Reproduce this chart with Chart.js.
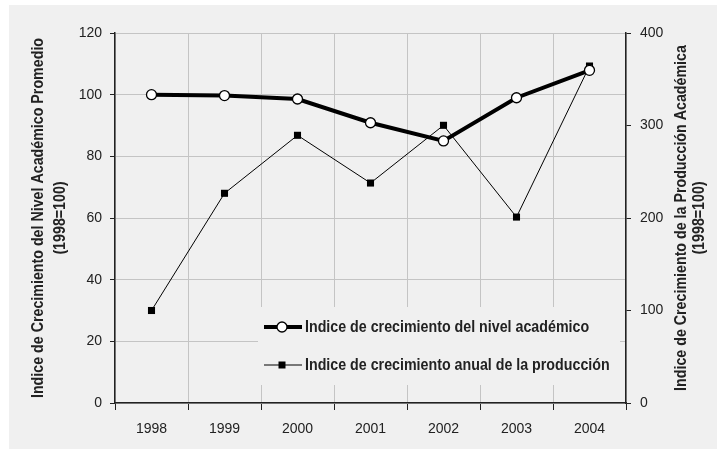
<!DOCTYPE html>
<html>
<head>
<meta charset="utf-8">
<script src="https://cdn.jsdelivr.net/npm/chart.js@4/dist/chart.umd.min.js"></script>
<style>
  html, body { margin: 0; padding: 0; background: #ffffff; }
  #wrap { position: absolute; left: 9px; top: 5px; width: 708px; height: 444px; background: #f0f0f0; }
</style>
</head>
<body>
<div id="wrap"><canvas id="chart"></canvas></div>
<script>
const years = ['1998', '1999', '2000', '2001', '2002', '2003', '2004'];
const nivelAcademico = [100, 99.7, 98.6, 90.9, 85.0, 99.0, 107.9];
const produccion = [100, 226.7, 289.4, 237.8, 300.2, 201, 364.3];
const seriesLabels = ['Indice de crecimiento del nivel académico', 'Indice de crecimiento anual de la producción'];
const leftTitle = ['Indice de Crecimiento del Nivel Académico Promedio', '(1998=100)'];
const rightTitle = ['Indice de Crecimiento de la Producción Académica', '(1998=100)'];

const FONT = "'Liberation Sans', Arial, sans-serif";
const dark = '#222222';
const gridGray = '#c4c4c4';
const squeeze = 0.89; // the original type is a narrow face

// rotated axis titles + legend box inside the plot
const extras = {
    id: 'extras',
    afterDraw(chart) {
        const c = chart.ctx;
        const area = chart.chartArea;
        const midY = (area.top + area.bottom) / 2;
        c.save();
        c.fillStyle = dark;
        c.font = 'bold 16px ' + FONT;
        c.textAlign = 'center';
        c.textBaseline = 'middle';
        const drawTitle = (lines, xs) => {
            lines.forEach((t, i) => {
                c.save();
                c.translate(xs[i], midY);
                c.rotate(-Math.PI / 2);
                c.scale(squeeze, 1);
                c.fillText(t, 0, 0);
                c.restore();
            });
        };
        drawTitle(leftTitle, [30, 52]);
        drawTitle(rightTitle, [673, 691]);

        // legend
        c.fillStyle = '#f0f0f0';
        c.fillRect(249, 302, 362, 78);
        const rows = [322, 360];
        chart.data.datasets.forEach((ds, i) => {
            const y = rows[i];
            c.strokeStyle = '#000000';
            c.lineWidth = ds.borderWidth;
            c.beginPath();
            c.moveTo(255, y);
            c.lineTo(293, y);
            c.stroke();
            c.lineWidth = 1.3;
            c.fillStyle = ds.pointBackgroundColor;
            if (ds.pointStyle === 'circle') {
                c.beginPath();
                c.arc(273, y, 5, 0, Math.PI * 2);
                c.fill();
                c.stroke();
            } else {
                c.fillRect(269.5, y - 3.5, 7, 7);
            }
            c.save();
            c.translate(296, y + 1);
            c.scale(squeeze, 1);
            c.fillStyle = dark;
            c.textAlign = 'left';
            c.font = 'bold 16px ' + FONT;
            c.fillText(ds.label, 0, 0);
            c.restore();
        });
        c.restore();
    }
};

new Chart(document.getElementById('chart'), {
    type: 'line',
    data: {
        labels: years,
        datasets: [
            {
                label: seriesLabels[0],
                data: nivelAcademico,
                yAxisID: 'y',
                borderColor: '#000000',
                borderWidth: 4,
                pointStyle: 'circle',
                pointRadius: 5,
                pointBackgroundColor: '#ffffff',
                pointBorderColor: '#000000',
                pointBorderWidth: 1.3,
                tension: 0
            },
            {
                label: seriesLabels[1],
                data: produccion,
                yAxisID: 'y2',
                borderColor: '#000000',
                borderWidth: 1,
                pointStyle: 'rect',
                pointRadius: 5,
                pointBackgroundColor: '#000000',
                pointBorderColor: '#000000',
                pointBorderWidth: 0,
                tension: 0
            }
        ]
    },
    options: {
        responsive: true,
        maintainAspectRatio: false,
        animation: false,
        layout: { padding: { left: 0, top: 28, right: 0, bottom: 0 } },
        plugins: {
            legend: { display: false },
            tooltip: { enabled: false }
        },
        scales: {
            x: {
                offset: true,
                grid: { offset: true, color: gridGray, tickColor: dark, tickLength: 7, lineWidth: 1 },
                border: { color: dark, width: 1.5 },
                ticks: { color: dark, font: { family: FONT, size: 14 }, padding: 11, maxRotation: 0 },
                afterFit(s) { s.height = 46; }
            },
            y: {
                position: 'left',
                min: 0, max: 120,
                ticks: { stepSize: 20, color: dark, font: { family: FONT, size: 14 }, padding: 8 },
                grid: { color: gridGray, tickColor: dark, tickLength: 5 },
                border: { color: dark, width: 1.5 },
                afterFit(s) { s.width = 106; }
            },
            y2: {
                position: 'right',
                min: 0, max: 400,
                ticks: { stepSize: 100, color: dark, font: { family: FONT, size: 14 }, padding: 9 },
                grid: { drawOnChartArea: false, tickColor: dark, tickLength: 5 },
                border: { color: dark, width: 1.5 },
                afterFit(s) { s.width = 91; }
            }
        }
    },
    plugins: [extras]
});
</script>
</body>
</html>
